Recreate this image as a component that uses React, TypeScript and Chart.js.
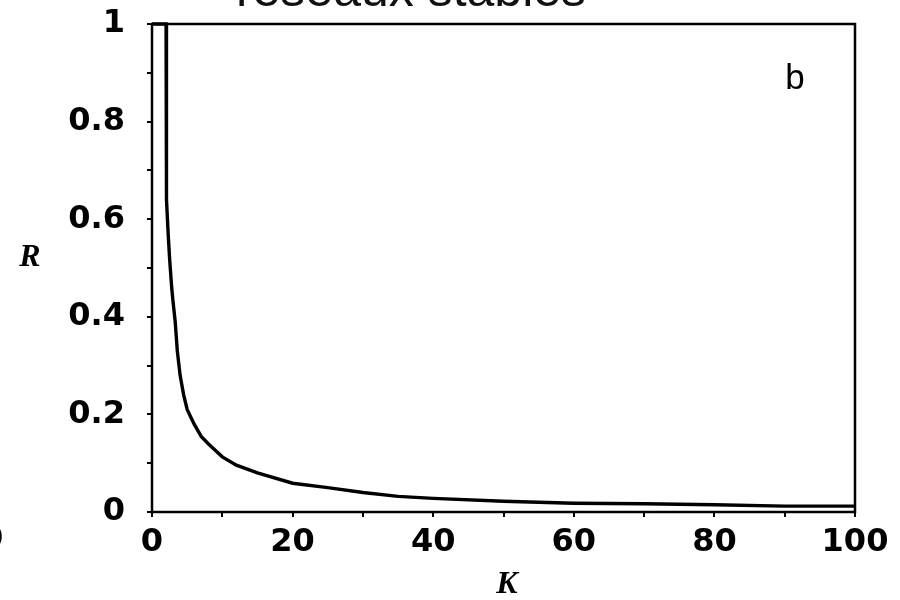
import React, { useEffect, useRef } from "react";
import { Chart, registerables } from "chart.js";

Chart.register(...registerables);

const kValues = [0, 1, 2, 2.02, 2.1, 2.3, 2.5, 2.8, 3, 3.3, 3.6, 4, 4.5, 5, 6, 7, 8, 10, 12, 15, 20, 25, 30, 35, 40, 50, 60, 70, 80, 90, 100];
const rValues = [1, 1, 1, 0.84, 0.64, 0.57, 0.52, 0.46, 0.43, 0.39, 0.33, 0.28, 0.24, 0.21, 0.18, 0.155, 0.14, 0.113, 0.096, 0.08, 0.059, 0.05, 0.04, 0.032, 0.028, 0.022, 0.018, 0.017, 0.015, 0.012, 0.012];
const xTickLabels = ["0", "20", "40", "60", "80", "100"];
const yTickLabels = ["0", "0.2", "0.4", "0.6", "0.8", "1"];
const titleText = "réseaux stables";
const panelLetter = "b";
const xAxisTitle = "K";
const yAxisTitle = "R";

const tickFont = { family: "'DejaVu Sans', sans-serif", size: 32, weight: "bold" as const };

const annotations = {
  id: "annotations",
  beforeDatasetsDraw(chart: any) {
    const { ctx, chartArea: a } = chart;
    ctx.save();
    ctx.strokeStyle = "#000";
    ctx.lineWidth = 2.5;
    ctx.strokeRect(a.left, a.top, a.right - a.left, a.bottom - a.top);
    ctx.restore();
  },
  afterDraw(chart: any) {
    const { ctx } = chart;
    ctx.save();
    ctx.fillStyle = "#111";
    ctx.font = "50px 'Liberation Sans', Arial, sans-serif";
    ctx.textAlign = "center";
    ctx.textBaseline = "alphabetic";
    ctx.fillText(titleText, 411, 6);
    ctx.fillStyle = "#000";
    ctx.font = "35px 'Liberation Sans', Arial, sans-serif";
    ctx.textAlign = "center";
    ctx.fillText(panelLetter, 795, 89);
    ctx.font = "italic bold 32px 'Liberation Serif', 'Times New Roman', serif";
    ctx.textBaseline = "middle";
    ctx.fillText(yAxisTitle, 30, 258);
    ctx.fillText(xAxisTitle, 507, 585);
    ctx.font = "bold 32px 'DejaVu Sans', sans-serif";
    ctx.textAlign = "left";
    ctx.fillText("0", -19, 540);
    ctx.restore();
  },
};

export default function App() {
  const canvasRef = useRef<HTMLCanvasElement | null>(null);

  useEffect(() => {
    if (!canvasRef.current) return;
    const chart = new Chart(canvasRef.current, {
      type: "line",
      data: {
        datasets: [
          {
            data: kValues.map((k, i) => ({ x: k, y: rValues[i] })),
            borderColor: "#000",
            borderWidth: 3.4,
            pointRadius: 0,
            tension: 0,
            fill: false,
            clip: false as any,
          },
        ],
      },
      options: {
        animation: false,
        responsive: false,
        maintainAspectRatio: false,
        layout: { padding: { top: 24, right: 45, left: 0, bottom: 0 } },
        plugins: { legend: { display: false }, tooltip: { enabled: false }, title: { display: false } },
        scales: {
          x: {
            type: "linear",
            min: 0,
            max: 100,
            border: { display: false },
            grid: { drawOnChartArea: false, drawTicks: true, tickLength: 5, color: "#000", lineWidth: 2 },
            ticks: {
              stepSize: 10,
              color: "#000",
              font: tickFont,
              padding: 6,
              maxRotation: 0,
              autoSkip: false,
              callback: (v: any) => {
                const idx = Math.round(Number(v) / 20);
                return Number(v) % 20 === 0 ? xTickLabels[idx] : "";
              },
            },
            afterFit: (s: any) => {
              s.height = 88;
              s.paddingLeft = 0;
              s.paddingRight = 0;
            },
          },
          y: {
            type: "linear",
            min: 0,
            max: 1,
            border: { display: false },
            grid: { drawOnChartArea: false, drawTicks: true, tickLength: 5, color: "#000", lineWidth: 2 },
            ticks: {
              stepSize: 0.1,
              color: "#000",
              font: tickFont,
              padding: 22,
              autoSkip: false,
              callback: (v: any) => {
                const n = Math.round(Number(v) * 10);
                return n % 2 === 0 ? yTickLabels[n / 2] : "";
              },
            },
            afterFit: (s: any) => {
              s.width = 152;
              s.paddingTop = 0;
              s.paddingBottom = 0;
            },
          },
        },
      },
      plugins: [annotations],
    });
    return () => chart.destroy();
  }, []);

  return (
    <div style={{ position: "absolute", left: 0, top: 0, width: 900, height: 600, background: "#fff" }}>
      <canvas ref={canvasRef} width={900} height={600} style={{ width: 900, height: 600 }} />
    </div>
  );
}
